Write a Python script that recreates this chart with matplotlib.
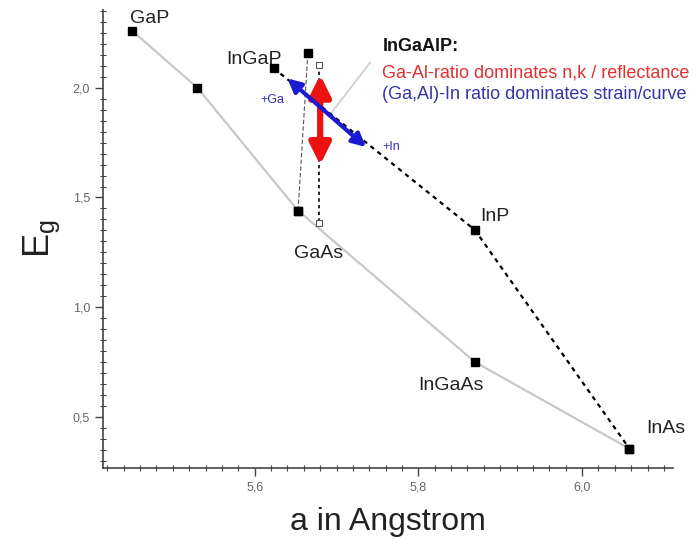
import matplotlib
matplotlib.use("Agg")
import matplotlib.pyplot as plt
from matplotlib.ticker import MultipleLocator, FuncFormatter

plt.rcParams['font.family'] = ['Liberation Sans', 'DejaVu Sans']

# lattice constant (Angstrom) and band gap (eV)
gray_a = [5.4505, 5.53, 5.653, 5.869, 6.058]
gray_eg = [2.26, 2.00, 1.44, 0.75, 0.354]

dot_a = [5.623, 5.869, 6.058]
dot_eg = [2.09, 1.352, 0.354]

alp_a = [5.653, 5.665]
alp_eg = [1.44, 2.16]

open_a = [5.679, 5.679]
open_eg = [2.105, 1.385]

labels = ["GaP", "InGaP", "GaAs", "InP", "InGaAs", "InAs"]
label_a = [5.472, 5.599, 5.678, 5.894, 5.840, 6.102]
label_eg = [2.317, 2.128, 1.243, 1.415, 0.641, 0.445]

fig = plt.figure(figsize=(6.98, 5.44), dpi=100)
ax = fig.add_axes([0.148, 0.14, 0.816, 0.842])

ax.plot(gray_a, gray_eg, color='#c8c8c8', lw=1.6, zorder=2)
ax.plot(dot_a, dot_eg, color='black', lw=1.6, ls=(0, (2, 2)), zorder=2)
ax.plot(alp_a, alp_eg, color='#555555', lw=0.8, ls=(0, (4, 2)), zorder=2)
ax.plot(open_a, open_eg, color='black', lw=1.2, ls=(0, (2, 2)), zorder=2)

ax.plot(gray_a, gray_eg, 's', color='black', ms=6, zorder=4)
ax.plot(dot_a, dot_eg, 's', color='black', ms=6, zorder=4)
ax.plot(alp_a, alp_eg, 's', color='black', ms=6, zorder=4)
ax.plot(open_a, open_eg, 's', mfc='white', mec='#555555', mew=0.8, ms=5, zorder=4)

for t, x, y in zip(labels, label_a, label_eg):
    ax.text(x, y, t, fontsize=14, color='#222222', ha='center', va='center', clip_on=False)

# leader line from the note to the red arrow
ax.plot([5.690, 5.741], [1.868, 2.115], color='#cccccc', lw=1.2, zorder=1)

# red: Ga-Al ratio, blue: (Ga,Al)-In ratio
ax.annotate('', xy=(5.680, 2.059), xytext=(5.680, 1.649),
            arrowprops=dict(arrowstyle='<|-|>', color='#ee1111', lw=4.5,
                            mutation_scale=32, shrinkA=0, shrinkB=0), zorder=5)
ax.annotate('', xy=(5.640, 2.043), xytext=(5.736, 1.730),
            arrowprops=dict(arrowstyle='<|-|>', color='#1a1ad0', lw=3,
                            mutation_scale=20, shrinkA=0, shrinkB=0), zorder=5)
ax.text(5.621, 1.945, '+Ga', color='#3030b0', fontsize=9, ha='center', va='center')
ax.text(5.767, 1.730, '+In', color='#3030b0', fontsize=9, ha='center', va='center')

ax.text(5.756, 2.188, 'InGaAlP:', fontsize=13, fontweight='bold', color='#111111',
        ha='left', va='center')
ax.text(5.756, 2.068, 'Ga-Al-ratio dominates n,k / reflectance', fontsize=13,
        color='#e03030', ha='left', va='center', clip_on=False)
ax.text(5.756, 1.968, '(Ga,Al)-In ratio dominates strain/curve', fontsize=13,
        color='#3535a5', ha='left', va='center', clip_on=False)

ax.set_xlim(5.415, 6.111)
ax.set_ylim(0.267, 2.356)

ax.xaxis.set_major_locator(MultipleLocator(0.2))
ax.xaxis.set_minor_locator(MultipleLocator(0.02))
ax.yaxis.set_major_locator(MultipleLocator(0.5))
ax.yaxis.set_minor_locator(MultipleLocator(0.05))
comma = FuncFormatter(lambda v, p: f"{v:.1f}".replace('.', ','))
ax.xaxis.set_major_formatter(comma)
ax.yaxis.set_major_formatter(comma)

for s in ['top', 'right']:
    ax.spines[s].set_visible(False)
for s in ['left', 'bottom']:
    ax.spines[s].set_color('#444444')
    ax.spines[s].set_linewidth(1.2)
ax.tick_params(which='major', direction='out', length=6, width=1, colors='#444444',
               labelsize=9, labelcolor='#666666')
ax.tick_params(which='minor', direction='inout', length=5, width=0.8, colors='#444444')

ax.set_xlabel('a in Angstrom', fontsize=23, color='#222222', labelpad=10)
ax.set_ylabel('E$_\\mathregular{g}$', fontsize=26, color='#222222', labelpad=8)

fig.savefig('out.png', dpi=100)
